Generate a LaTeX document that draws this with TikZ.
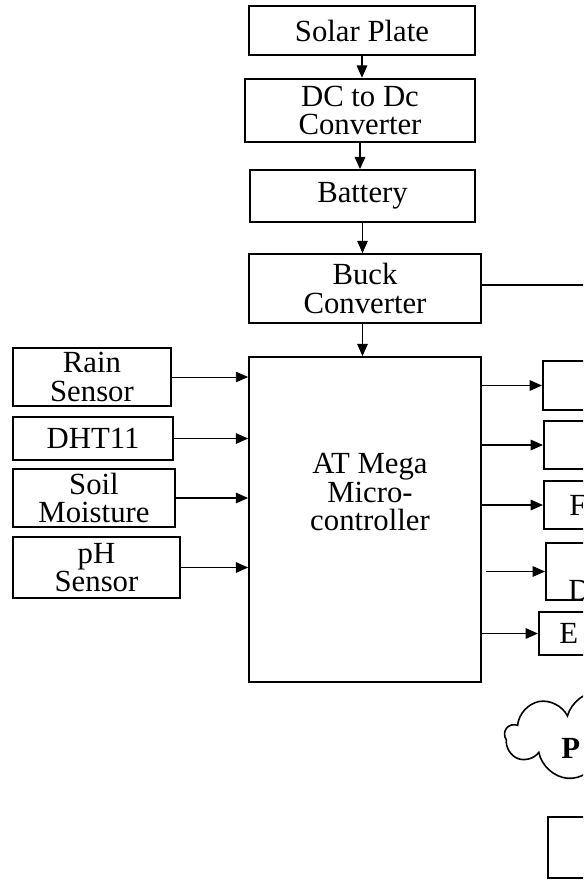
\documentclass[tikz,border=0pt]{standalone}
\usepackage{fontspec}
\setmainfont{Liberation Serif}
\usepackage{tikz}
\usetikzlibrary{shapes.symbols, arrows.meta, positioning, calc}
\tikzset{
  blockbox/.style={rectangle, draw=black, line width=1pt, fill=white, align=center,
                   font=\fontsize{17.5}{16}\selectfont, inner sep=2pt},
  outbox/.style={rectangle, draw=black, line width=1pt, fill=white,
                 minimum width=2.4cm},
  cloudbox/.style={cloud, cloud puffs=9, aspect=2, draw=black, line width=0.9pt,
                   minimum width=3.8cm, minimum height=1.8cm},
  cut/.style={anchor=west, inner sep=0pt, font=\fontsize{17.5}{16}\selectfont},
  arr/.style={-{Triangle[length=7pt, width=6pt]}, line width=0.7pt},
  wire/.style={line width=0.6pt},
}

\begin{document}
\begin{tikzpicture}[x=0.02cm, y=-0.02cm]

\useasboundingbox (0,0) rectangle (583,880);
\clip (0,0) rectangle (583,880);

% ========== Zasilanie (gora) ==========
\node[blockbox, minimum width=4.52cm, minimum height=0.98cm] (solar)   at (362,30.5)  {Solar Plate};
\node[blockbox, minimum width=4.6cm,  minimum height=1.26cm, line width=1.4pt] (dcdc) at (360,110.5) {DC to Dc\\Converter};
\node[blockbox, minimum width=4.5cm,  minimum height=1.04cm] (battery) at (362.5,196) {Battery};
\node[blockbox, minimum width=4.64cm, minimum height=1.38cm] (buck)    at (365,288.5) {Buck\\Converter};

% ========== Mikrokontroler ==========
\node[blockbox, minimum width=4.64cm, minimum height=6.5cm] (atmega) at (365,519.5) {};
\node[blockbox, draw=none, fill=none] (atmegatext) at (370,492) {AT Mega\\Micro-\\controller};

% ========== Czujniki (lewa strona) ==========
\node[blockbox, minimum width=3.16cm, minimum height=1.16cm] (rain) at (92,377)    {Rain\\Sensor};
\node[blockbox, minimum width=3.2cm,  minimum height=0.86cm] (dht)  at (93,438.5)  {DHT11};
\node[blockbox, minimum width=3.24cm, minimum height=1.16cm] (soil) at (94,498)    {Soil\\Moisture};
\node[blockbox, minimum width=3.34cm, minimum height=1.22cm] (ph)   at (96.5,567.5) {pH\\Sensor};

% ========== Wyjscia (prawa strona, uciete) ==========
\node[outbox, minimum height=0.98cm, anchor=west] (outa) at (542,385.5) {};
\node[outbox, minimum height=0.96cm, anchor=west] (outb) at (543,445)   {};
\node[outbox, minimum height=0.96cm, anchor=west] (outc) at (543,505)   {};
\node[outbox, minimum height=1.14cm, anchor=west] (outd) at (545,571.5) {};
\node[outbox, minimum height=0.86cm, anchor=west] (oute) at (538,633.5) {};
\node[cut] (outctext) at (569,505) {F};
\node[cut] (outdtext) at (568,590) {D};
\node[cut] (outetext) at (559,633) {E};

% Chmura i dolny blok
\node[cloudbox] (cloud) at (600,736) {};
\node[cut] (cloudtext) at (561,748) {\textbf{P}};
\node[outbox, minimum height=1.22cm, anchor=west] (bottom) at (547,847.5) {};

% ========== Polaczenia ==========
\draw[arr] (solar.south)   -- (solar.south |- dcdc.north);
\draw[arr, line width=1pt] (dcdc.south) -- (dcdc.south |- battery.north);
\draw[arr, line width=0.4pt] (battery.south) -- (battery.south |- buck.north);
\draw[arr] (battery.south |- buck.south) -- (battery.south |- atmega.north);

\coordinate (buckout) at (600,285);
\draw[wire] (buck.east |- buckout) -- (buckout);

\draw[arr, line width=0.5pt] (rain.east) -- (rain.east -| atmega.west);
\draw[arr] (dht.east)  -- (dht.east -| atmega.west);
\draw[arr] (soil.east) -- (soil.east -| atmega.west);
\draw[arr] (ph.east)   -- (ph.east -| atmega.west);

\draw[arr] (outa.west -| atmega.east) -- (outa.west);
\draw[arr] (outb.west -| atmega.east) -- (outb.west);
\draw[arr] (outc.west -| atmega.east) -- (outc.west);
\draw[arr, line width=0.5pt] ($(outd.west -| atmega.east)+(4,0)$) -- (outd.west);
\draw[arr] (oute.west -| atmega.east) -- (oute.west);

\end{tikzpicture}
\end{document}
